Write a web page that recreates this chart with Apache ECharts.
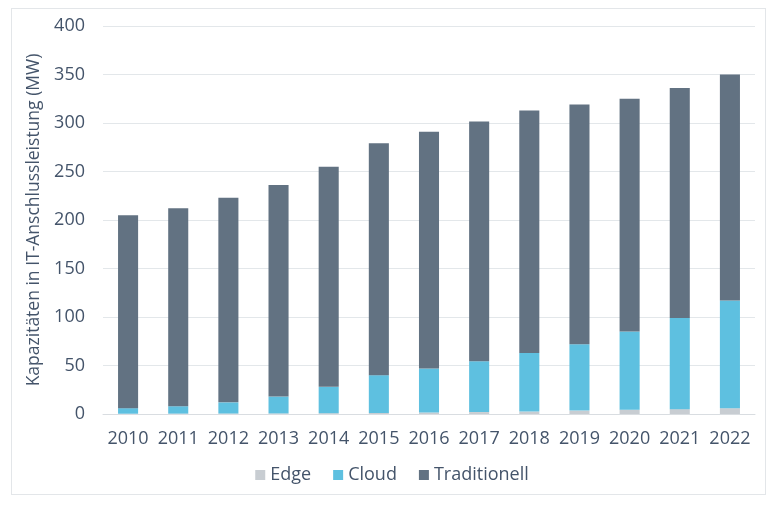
<!DOCTYPE html>
<html><head><meta charset="utf-8">
<script src="https://cdn.jsdelivr.net/npm/echarts@6/dist/echarts.min.js"></script>
<style>html,body{margin:0;padding:0;background:#fff}#frame{position:absolute;left:11px;top:8px;width:755px;height:487px;border:1px solid #e3e6e9;box-sizing:border-box}#c{position:absolute;left:0;top:0;width:784px;height:506px}</style>
</head><body><div id="frame"></div><div id="c"></div>
<script>
const years = ['2010','2011','2012','2013','2014','2015','2016','2017','2018','2019','2020','2021','2022'];
const edge = [0.3, 0.4, 0.5, 0.6, 0.8, 1, 1.5, 2, 2.5, 3.5, 4.5, 5, 6];
const cloud = [5.7, 7.6, 11.5, 17.4, 27.2, 39, 45.5, 52.5, 60.5, 68.5, 80.5, 94, 111];
const traditionell = [199, 204, 211, 218, 227, 239, 244, 247, 250, 247, 240, 237, 233];
const yTicks = [0, 50, 100, 150, 200, 250, 300, 350, 400];
const font = 'Open Sans';
const chart = echarts.init(document.getElementById('c'));
chart.setOption({
  animation: false,
  textStyle: { fontFamily: font },
  grid: { left: 103, right: 29, top: 26, bottom: 92 },
  legend: {
    bottom: 17, left: 'center', itemWidth: 10, itemHeight: 10, itemGap: 22,
    icon: 'rect',
    textStyle: { color: '#44546a', fontSize: 18, fontFamily: font },
    data: ['Edge', 'Cloud', 'Traditionell']
  },
  xAxis: {
    type: 'category', data: years,
    axisLine: { lineStyle: { color: '#d9dde1' } },
    axisTick: { show: false },
    axisLabel: { color: '#44546a', fontSize: 18, margin: 16, interval: 0 }
  },
  yAxis: {
    type: 'value', min: yTicks[0], max: yTicks[yTicks.length - 1], interval: 50,
    name: 'Kapazitäten in IT-Anschlussleistung (MW)',
    nameLocation: 'middle', nameGap: 55, nameRotate: 90,
    nameTextStyle: { color: '#44546a', fontSize: 17.5 },
    axisLine: { show: false }, axisTick: { show: false },
    splitLine: { lineStyle: { color: '#e3e7ea' } },
    axisLabel: { color: '#44546a', fontSize: 18, margin: 18 }
  },
  series: [
    { name: 'Edge', type: 'bar', stack: 't', data: edge, barWidth: '40%', itemStyle: { color: '#c8cdd2' } },
    { name: 'Cloud', type: 'bar', stack: 't', data: cloud, barWidth: '40%', itemStyle: { color: '#5ec0e0' } },
    { name: 'Traditionell', type: 'bar', stack: 't', data: traditionell, barWidth: '40%', itemStyle: { color: '#627282' } }
  ]
});
</script></body></html>
